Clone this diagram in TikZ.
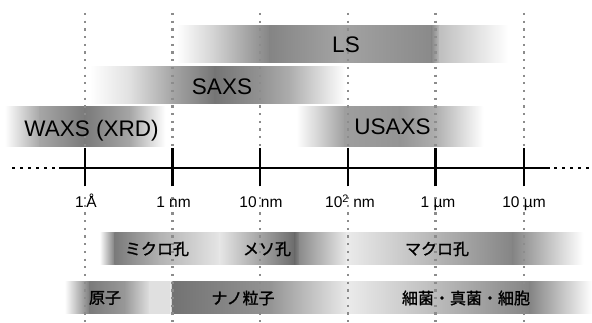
\documentclass[tikz,border=0pt]{standalone}
\usepackage{fontspec}
\setmainfont{Liberation Sans}
\newfontfamily\jpfont[FakeBold=1.3]{Noto Sans CJK JP}
\newcommand\seg[6]{\shade[left color=#5,right color=#6] (#1-0.3,#3) rectangle (#2+0.3,#4);}
\begin{document}
\begin{tikzpicture}[x=1pt,y=-1pt,
  vdot/.style={black!45, line width=2.2pt, dash pattern=on 2.2pt off 5.5pt},
  adot/.style={black, line width=2.6pt, dash pattern=on 2.6pt off 5.4pt},
  axisline/.style={line width=2.8pt},
  tickline/.style={line width=2.8pt},
  bigtxt/.style={font=\fontsize{22.5}{24}\selectfont, inner sep=0pt, anchor=base},
  ticklbl/.style={font=\fontsize{15.5}{17}\selectfont, inner sep=0pt, anchor=base},
  jlbl/.style={font=\jpfont\fontsize{16}{18}\selectfont, inner sep=0pt}]
\useasboundingbox (0,0) rectangle (592,323);
% ---- bands ----
% LS
\seg{177}{215}{26}{63}{white}{black!18}
\seg{215}{270}{26}{63}{black!18}{black!48}
\seg{270}{340}{26}{63}{black!48}{black!36}
\seg{340}{432}{26}{63}{black!36}{black!46}
\seg{432}{440}{26}{63}{black!46}{black!25}
\seg{440}{508}{26}{63}{black!25}{white}
% SAXS
\seg{90}{130}{67}{104}{white}{black!12}
\seg{130}{172}{67}{104}{black!12}{black!35}
\seg{172}{215}{67}{104}{black!35}{black!54}
\seg{215}{262}{67}{104}{black!54}{black!42}
\seg{262}{290}{67}{104}{black!42}{black!32}
\seg{290}{345}{67}{104}{black!32}{white}
% WAXS
\seg{5}{40}{107}{147}{white}{black!35}
\seg{40}{85}{107}{147}{black!35}{black!52}
\seg{85}{130}{107}{147}{black!52}{black!35}
\seg{130}{165}{107}{147}{black!35}{white}
% USAXS
\seg{297}{345}{107}{147}{white}{black!38}
\seg{345}{400}{107}{147}{black!38}{black!42}
\seg{400}{435}{107}{147}{black!42}{black!32}
\seg{435}{483}{107}{147}{black!32}{white}
% pores band
\seg{100}{115}{233}{265}{white}{black!52}
\seg{115}{160}{233}{265}{black!52}{black!30}
\seg{160}{220}{233}{265}{black!30}{black!10}
\seg{220}{295}{233}{265}{black!10}{black!58}
\seg{295}{300}{233}{265}{black!58}{black!45}
\seg{300}{347}{233}{265}{black!45}{black!8}
\seg{347}{420}{233}{265}{black!8}{black!25}
\seg{420}{513}{233}{265}{black!25}{black!48}
\seg{513}{583}{233}{265}{black!48}{white}
% particles band
\seg{65}{90}{282}{313}{white}{black!52}
\seg{90}{125}{282}{313}{black!52}{black!40}
\seg{125}{150}{282}{313}{black!40}{black!12}
\seg{150}{171}{282}{313}{black!12}{black!12}
\seg{171}{173}{282}{313}{black!12}{black!55}
\seg{173}{270}{282}{313}{black!55}{black!42}
\seg{270}{348}{282}{313}{black!42}{black!8}
\seg{348}{430}{282}{313}{black!8}{black!25}
\seg{430}{530}{282}{313}{black!25}{black!48}
\seg{530}{592}{282}{313}{black!48}{white}
% ---- vertical dotted guides ----
\foreach \n/\x in {1/85,2/172.5,3/260,4/348,5/435.5,6/524}{
  \coordinate (top\n) at (\x,13);
  \coordinate (up\n) at (\x,148);
  \coordinate (t\n) at (\x,168);
  \coordinate (lo\n) at (\x,197);
  \coordinate (bot\n) at (\x,323);
  \draw[vdot] (top\n) -- (up\n);
  \draw[vdot] (lo\n) -- (bot\n);
}
% ---- axis ----
\coordinate (al) at (12,168);
\coordinate (as) at (59,168);
\coordinate (ae) at (550,168);
\coordinate (ar) at (592,168);
\draw[adot] (al) -- (as);
\draw[axisline] (as) -- (ae);
\draw[adot] ([xshift=4pt]ae) -- (ar);
\foreach \n in {1,...,6}{
  \draw[tickline] ([yshift=-18.5pt]t\n) -- ([yshift=19.5pt]t\n);
}
% ---- texts ----
\node[bigtxt] (ls) at (346,53) {LS};
\node[bigtxt] (saxs) at (222,95) {SAXS};
\node[bigtxt] (waxs) at (91.5,137) {WAXS (XRD)};
\node[bigtxt] (usaxs) at (392.5,135) {USAXS};
\node[ticklbl] (l1) at (86,208) {1\,Å};
\node[ticklbl] (l2) at (173.5,208) {1 nm};
\node[ticklbl] (l3) at (261,208) {10 nm};
\node[ticklbl] (l4) at (350,208) {10\textsuperscript{2} nm};
\node[ticklbl] (l5) at (438,208) {1 µm};
\node[ticklbl] (l6) at (524,208) {10 µm};
\node[jlbl] (micro) at (157,249) {ミクロ孔};
\node[jlbl] (meso) at (267,249) {メソ孔};
\node[jlbl] (macro) at (437,249) {マクロ孔};
\node[jlbl] (atom) at (105,298) {原子};
\node[jlbl] (nano) at (243,298) {ナノ粒子};
\node[jlbl] (cell) at (466,298) {細菌・真菌・細胞};
\end{tikzpicture}
\end{document}
